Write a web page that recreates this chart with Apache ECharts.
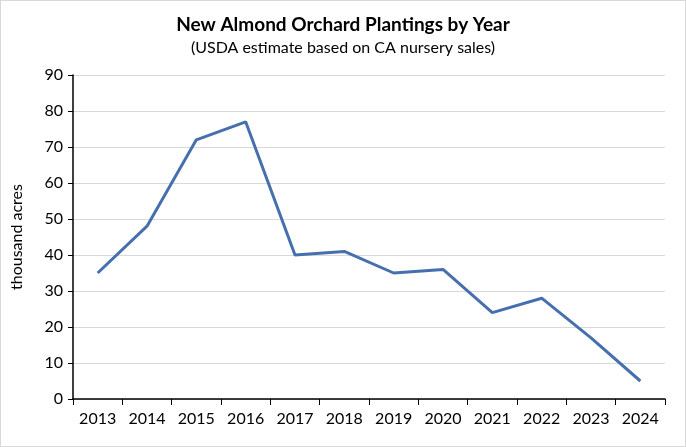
<!DOCTYPE html>
<html>
<head>
<meta charset="utf-8">
<script src="https://cdn.jsdelivr.net/npm/echarts@6/dist/echarts.min.js"></script>
<style>
  html, body { margin: 0; padding: 0; background: #fff; }
  #chart { width: 684px; height: 445px; border: 1px solid #d9d9d9; }
</style>
</head>
<body>
<div id="chart"></div>
<script>
const years = ['2013', '2014', '2015', '2016', '2017', '2018', '2019', '2020', '2021', '2022', '2023', '2024'];
const plantings = [35, 48, 72, 77, 40, 41, 35, 36, 24, 28, 17, 5];
const yTicks = { min: 0, max: 90, step: 10 };

const chart = echarts.init(document.getElementById('chart'));
const font = 'Lato, "Open Sans", sans-serif';

chart.setOption({
  animation: false,
  textStyle: { fontFamily: font },
  title: {
    text: 'New Almond Orchard Plantings by Year',
    subtext: '(USDA estimate based on CA nursery sales)',
    left: 'center',
    top: 9,
    itemGap: 6,
    textStyle: { fontFamily: font, fontSize: 19, fontWeight: 'bold', color: '#000' },
    subtextStyle: { fontFamily: font, fontSize: 16, color: '#000' }
  },
  grid: { left: 72, right: 20, top: 74, bottom: 47 },
  xAxis: {
    type: 'category',
    data: years,
    boundaryGap: true,
    axisLine: { lineStyle: { color: '#000', width: 1.5 } },
    axisTick: { show: true, alignWithLabel: false, length: 6, lineStyle: { color: '#000' } },
    axisLabel: { color: '#000', fontSize: 16, margin: 12 }
  },
  yAxis: {
    type: 'value',
    min: yTicks.min,
    max: yTicks.max,
    interval: yTicks.step,
    name: 'thousand acres',
    nameLocation: 'middle',
    nameGap: 48,
    nameRotate: 90,
    nameTextStyle: { color: '#000', fontSize: 16 },
    axisLine: { show: true, lineStyle: { color: '#000', width: 1.5 } },
    axisTick: { show: true, length: 5, lineStyle: { color: '#000' } },
    axisLabel: { color: '#000', fontSize: 16, margin: 10 },
    splitLine: { lineStyle: { color: '#d9d9d9' } }
  },
  series: [
    {
      name: 'Plantings',
      type: 'line',
      data: plantings,
      symbol: 'none',
      lineStyle: { color: '#4670ad', width: 3 }
    }
  ]
});
</script>
</body>
</html>
